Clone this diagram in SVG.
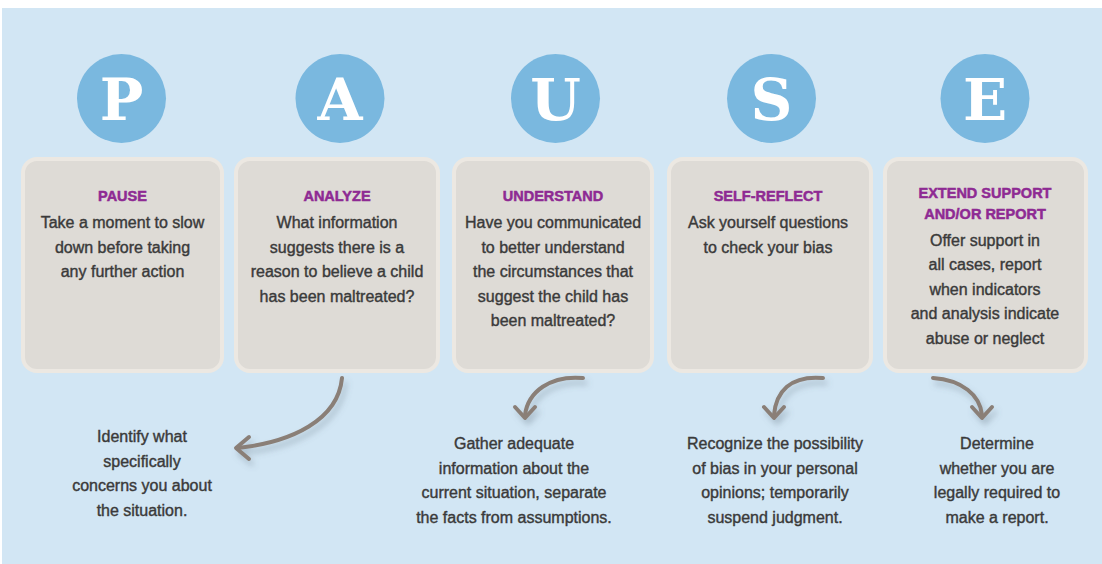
<svg xmlns="http://www.w3.org/2000/svg" width="1102" height="564" viewBox="0 0 1102 564">
  <defs>
    <style>
      .circ { fill: #7ab8df; }
      .letter { font-family: "DejaVu Serif", "Liberation Serif", serif; font-weight: bold; font-size: 58px; fill: #ffffff; text-anchor: middle; }
      .box { fill: #dedbd6; stroke: #ece8e2; stroke-width: 4; }
      .title { font-family: "Liberation Sans", Arial, sans-serif; font-weight: bold; font-size: 14.5px; fill: #8e2a93; text-anchor: middle; stroke: #8e2a93; stroke-width: 0.5; }
      .body { font-family: "Liberation Sans", Arial, sans-serif; font-size: 16px; fill: #3a3a3a; text-anchor: middle; stroke: #3a3a3a; stroke-width: 0.4; }
      .conn { fill: none; stroke: #8a7f77; stroke-width: 4; stroke-linecap: round; stroke-linejoin: round; }
    </style>
    <filter id="shadow" x="-30%" y="-30%" width="160%" height="180%">
      <feDropShadow dx="3" dy="5" stdDeviation="3" flood-color="#5a6a78" flood-opacity="0.35"/>
    </filter>
  </defs>

  <rect x="0" y="0" width="1102" height="564" fill="#ffffff"/>
  <rect x="2" y="8" width="1100" height="556" fill="#d2e6f4"/>

  <g id="node-p">
    <circle class="circ" cx="121.5" cy="98.5" r="44.5"/>
    <text class="letter" x="121.5" y="120">P</text>
    <rect class="box" x="23" y="159" width="199" height="212" rx="14"/>
    <text class="title" x="122.5" y="201">PAUSE</text>
    <text class="body" x="122.5" y="228">Take a moment to slow</text>
    <text class="body" x="122.5" y="252.5">down before taking</text>
    <text class="body" x="122.5" y="277">any further action</text>
  </g>

  <g id="node-a">
    <circle class="circ" cx="340" cy="98.5" r="44.5"/>
    <text class="letter" x="340" y="120">A</text>
    <rect class="box" x="236" y="159" width="202" height="212" rx="14"/>
    <text class="title" x="337" y="201">ANALYZE</text>
    <text class="body" x="337" y="228">What information</text>
    <text class="body" x="337" y="252.5">suggests there is a</text>
    <text class="body" x="337" y="277">reason to believe a child</text>
    <text class="body" x="337" y="301.5">has been maltreated?</text>
  </g>

  <g id="node-u">
    <circle class="circ" cx="555.5" cy="98.5" r="44.5"/>
    <text class="letter" x="555.5" y="120">U</text>
    <rect class="box" x="454" y="159" width="198" height="212" rx="14"/>
    <text class="title" x="553" y="201">UNDERSTAND</text>
    <text class="body" x="553" y="228">Have you communicated</text>
    <text class="body" x="553" y="252.5">to better understand</text>
    <text class="body" x="553" y="277">the circumstances that</text>
    <text class="body" x="553" y="301.5">suggest the child has</text>
    <text class="body" x="553" y="326">been maltreated?</text>
  </g>

  <g id="node-s">
    <circle class="circ" cx="771.5" cy="98.5" r="44.5"/>
    <text class="letter" x="771.5" y="120">S</text>
    <rect class="box" x="669" y="159" width="202" height="212" rx="14"/>
    <text class="title" x="768" y="201">SELF-REFLECT</text>
    <text class="body" x="768" y="228">Ask yourself questions</text>
    <text class="body" x="768" y="252.5">to check your bias</text>
  </g>

  <g id="node-e">
    <circle class="circ" cx="985" cy="98.5" r="44.5"/>
    <text class="letter" x="985" y="120">E</text>
    <rect class="box" x="885" y="159" width="201" height="212" rx="14"/>
    <text class="title" x="985" y="198">EXTEND SUPPORT</text>
    <text class="title" x="985" y="219">AND/OR REPORT</text>
    <text class="body" x="985" y="245.5">Offer support in</text>
    <text class="body" x="985" y="270">all cases, report</text>
    <text class="body" x="985" y="294.5">when indicators</text>
    <text class="body" x="985" y="319">and analysis indicate</text>
    <text class="body" x="985" y="343.5">abuse or neglect</text>
  </g>

  <g id="connectors" filter="url(#shadow)">
    <path class="conn" d="M342,378 C338,420 292,442 238,448"/>
    <path class="conn" d="M249,437 L236,448 L249,459"/>
    <path class="conn" d="M583,378 C550,375 528,392 525,415"/>
    <path class="conn" d="M515,407 L525,418 L535,407"/>
    <path class="conn" d="M823,378 C790,375 776,392 774,415"/>
    <path class="conn" d="M764,407 L774,418 L784,407"/>
    <path class="conn" d="M933,378 C962,380 980,395 982,415"/>
    <path class="conn" d="M972,407 L982,418 L992,407"/>
  </g>

  <g id="note-analyze">
    <text class="body" x="142" y="442">Identify what</text>
    <text class="body" x="142" y="466.5">specifically</text>
    <text class="body" x="142" y="491">concerns you about</text>
    <text class="body" x="142" y="515.5">the situation.</text>
  </g>

  <g id="note-understand">
    <text class="body" x="514" y="449">Gather adequate</text>
    <text class="body" x="514" y="473.5">information about the</text>
    <text class="body" x="514" y="498">current situation, separate</text>
    <text class="body" x="514" y="522.5">the facts from assumptions.</text>
  </g>

  <g id="note-selfreflect">
    <text class="body" x="775" y="449">Recognize the possibility</text>
    <text class="body" x="775" y="473.5">of bias in your personal</text>
    <text class="body" x="775" y="498">opinions; temporarily</text>
    <text class="body" x="775" y="522.5">suspend judgment.</text>
  </g>

  <g id="note-extend">
    <text class="body" x="997" y="449">Determine</text>
    <text class="body" x="997" y="473.5">whether you are</text>
    <text class="body" x="997" y="498">legally required to</text>
    <text class="body" x="997" y="522.5">make a report.</text>
  </g>
</svg>
